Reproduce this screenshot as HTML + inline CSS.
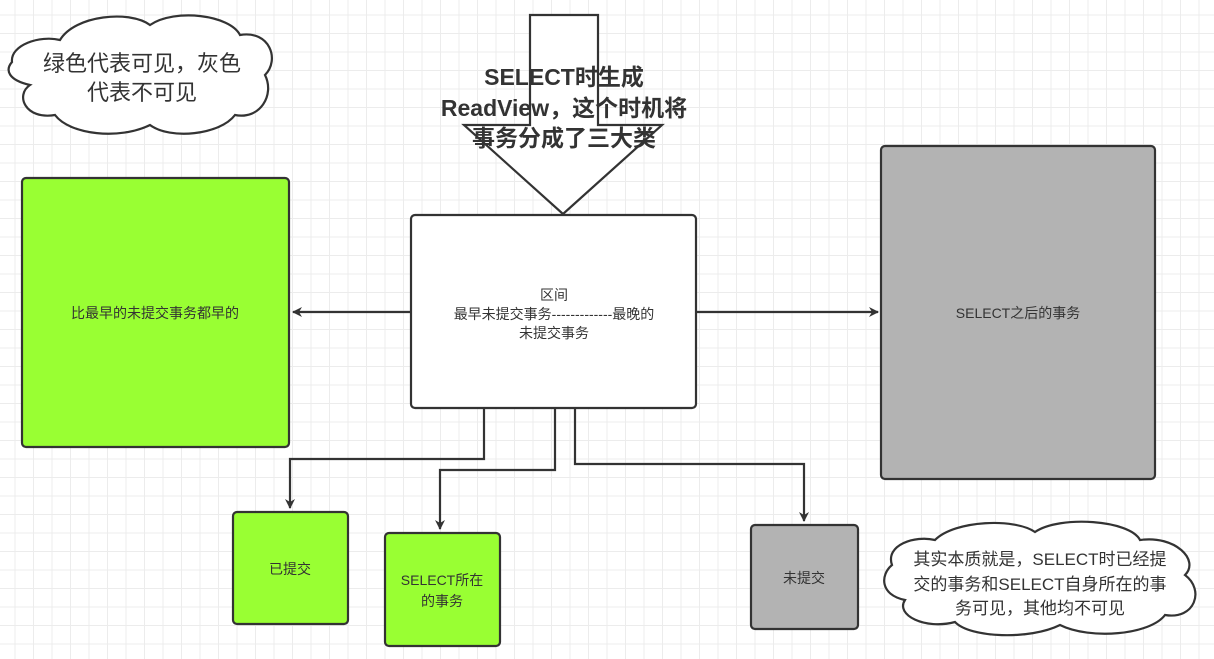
<!DOCTYPE html>
<html><head><meta charset="utf-8"><style>
body{margin:0;width:1214px;height:659px;overflow:hidden;background:#fff;
background-image:linear-gradient(#ececec 1px,transparent 1px),linear-gradient(90deg,#ececec 1px,transparent 1px);background-size:18.5px 18.5px;background-position:-4px -4px;}
svg{position:absolute;left:0;top:0}
text{font-family:"Liberation Sans","Noto Sans CJK SC",sans-serif;fill:#333}
</style></head><body>
<svg width="1214" height="659" viewBox="0 0 1214 659">
<defs><marker id="a" markerWidth="10" markerHeight="10" refX="9" refY="5" orient="auto" markerUnits="userSpaceOnUse"><path d="M0,0 L10,5 L0,10 L3,5 Z" fill="#333"/></marker></defs>
<g stroke="#333" stroke-width="2.2" fill="none">
<path d="M12,62 C10,45 40,35 60,40 C75,15 130,10 150,25 C175,8 230,15 240,35 C270,30 280,60 265,75 C275,95 260,120 235,115 C220,135 170,140 150,125 C120,140 70,135 55,115 C25,120 15,95 30,85 C8,80 5,70 12,62 Z" fill="#fff"/>
<path d="M892,565 C885,545 915,535 935,540 C955,520 1015,518 1035,532 C1060,515 1130,520 1140,540 C1175,535 1200,560 1185,575 C1205,590 1195,620 1165,615 C1150,635 1090,640 1060,625 C1030,640 970,638 955,622 C925,630 895,615 905,600 C880,595 880,575 892,565 Z" fill="#fff"/>
<polygon points="530,15 598,15 598,125 662,125 563,214 464,125 530,125" fill="#fff"/>
<rect x="22" y="178" width="267" height="269" rx="4" fill="#99ff33"/>
<rect x="411" y="215" width="285" height="193" rx="4" fill="#fff"/>
<rect x="881" y="146" width="274" height="333" rx="4" fill="#b3b3b3"/>
<rect x="233" y="512" width="115" height="112" rx="4" fill="#99ff33"/>
<rect x="385" y="533" width="115" height="113" rx="4" fill="#99ff33"/>
<rect x="751" y="525" width="107" height="104" rx="4" fill="#b3b3b3"/>
<path d="M411,312 H293" marker-end="url(#a)"/>
<path d="M697,312 H878" marker-end="url(#a)"/>
<path d="M484,409 V459 H290 V508" marker-end="url(#a)"/>
<path d="M555,409 V470 H440 V529" marker-end="url(#a)"/>
<path d="M575,409 V464 H804 V521" marker-end="url(#a)"/>
</g>
<text x="142" y="71" font-size="22" text-anchor="middle">绿色代表可见，灰色</text>
<text x="142" y="100" font-size="22" text-anchor="middle">代表不可见</text>
<g font-size="23" font-weight="bold" text-anchor="middle">
<text x="564" y="85">SELECT时生成</text>
<text x="564" y="116">ReadView，这个时机将</text>
<text x="564" y="146">事务分成了三大类</text>
</g>
<g font-size="14" text-anchor="middle">
<text x="155" y="318">比最早的未提交事务都早的</text>
<text x="554" y="300">区间</text>
<text x="554" y="319">最早未提交事务-------------最晚的</text>
<text x="554" y="338">未提交事务</text>
<text x="1018" y="318">SELECT之后的事务</text>
<text x="290" y="574">已提交</text>
<text x="442" y="585">SELECT所在</text>
<text x="442" y="606">的事务</text>
<text x="804" y="583">未提交</text>
</g>
<g font-size="17" text-anchor="middle">
<text x="1040" y="565">其实本质就是，SELECT时已经提</text>
<text x="1040" y="590">交的事务和SELECT自身所在的事</text>
<text x="1040" y="614">务可见，其他均不可见</text>
</g>
</svg>
</body></html>
